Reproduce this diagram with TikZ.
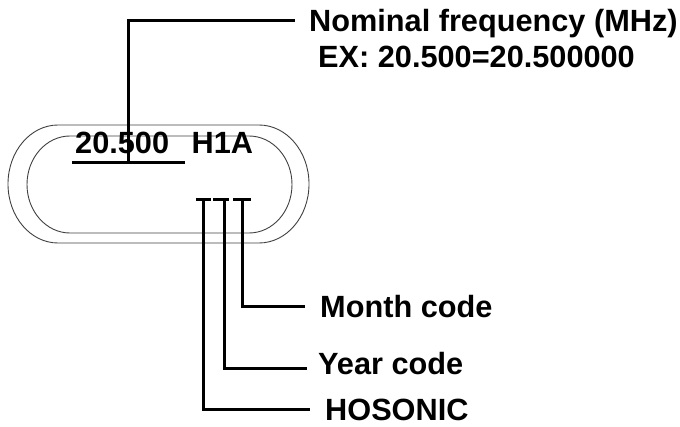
\documentclass[tikz,border=0pt]{standalone}
\usepackage{fontspec}
\setmainfont{Liberation Sans}
\begin{document}
\begin{tikzpicture}[x=1pt,y=1pt,
  lbl/.style={inner sep=0pt, anchor=base west, font=\fontsize{30.7}{36}\selectfont\bfseries},
  lead/.style={line width=3pt, black},
  rim/.style={line width=0.9pt, black!75}]
\useasboundingbox (0,0) rectangle (680,426);
% crystal body outline
\draw[rim] (58,301) -- (259,301) arc[start angle=90, end angle=-90, x radius=50, y radius=59]
  -- (58,183) arc[start angle=270, end angle=90, x radius=50, y radius=59] -- cycle;
\draw[rim] (70,290) -- (249,290) arc[start angle=90, end angle=-90, x radius=43, y radius=48.5]
  -- (70,193) arc[start angle=270, end angle=90, x radius=43, y radius=48.5] -- cycle;
% texts
\node[lbl] (mark) at (75,272) {20.500\hspace{22.6pt}H1A};
\node[lbl] (freq) at (309,394) {Nominal frequency (MHz)};
\node[lbl] (ex) at (318,358) {EX: 20.500=20.500000};
\node[lbl] (month) at (320,109) {Month code};
\node[lbl] (year) at (318,52) {Year code};
\node[lbl] (hos) at (325,6) {HOSONIC};
% coordinates of leader lines
\coordinate (ul) at (72,263);
\coordinate (ur) at (185,263);
\coordinate (fv) at (128,263);
\coordinate (fc) at (128,405);
\coordinate (fe) at (295,405);
\coordinate (hT) at (203,226);
\coordinate (hc) at (203,17);
\coordinate (he) at (310,17);
\coordinate (yT) at (224,226);
\coordinate (yc) at (224,58);
\coordinate (ye) at (307,58);
\coordinate (mT) at (242,226);
\coordinate (mc) at (242,119);
\coordinate (me) at (305,119);
% leader lines
\draw[lead] (ul) -- (ur);
\draw[lead] (fv) -- (fc) -- (fe);
\draw[lead] ([xshift=-7pt]hT) -- ([xshift=8pt]hT);
\draw[lead] ([xshift=-11pt]yT) -- ([xshift=5pt]yT);
\draw[lead] ([xshift=-9pt]mT) -- ([xshift=9pt]mT);
\draw[lead] (hT) -- (hc) -- (he);
\draw[lead] (yT) -- (yc) -- (ye);
\draw[lead] (mT) -- (mc) -- (me);
\end{tikzpicture}
\end{document}
